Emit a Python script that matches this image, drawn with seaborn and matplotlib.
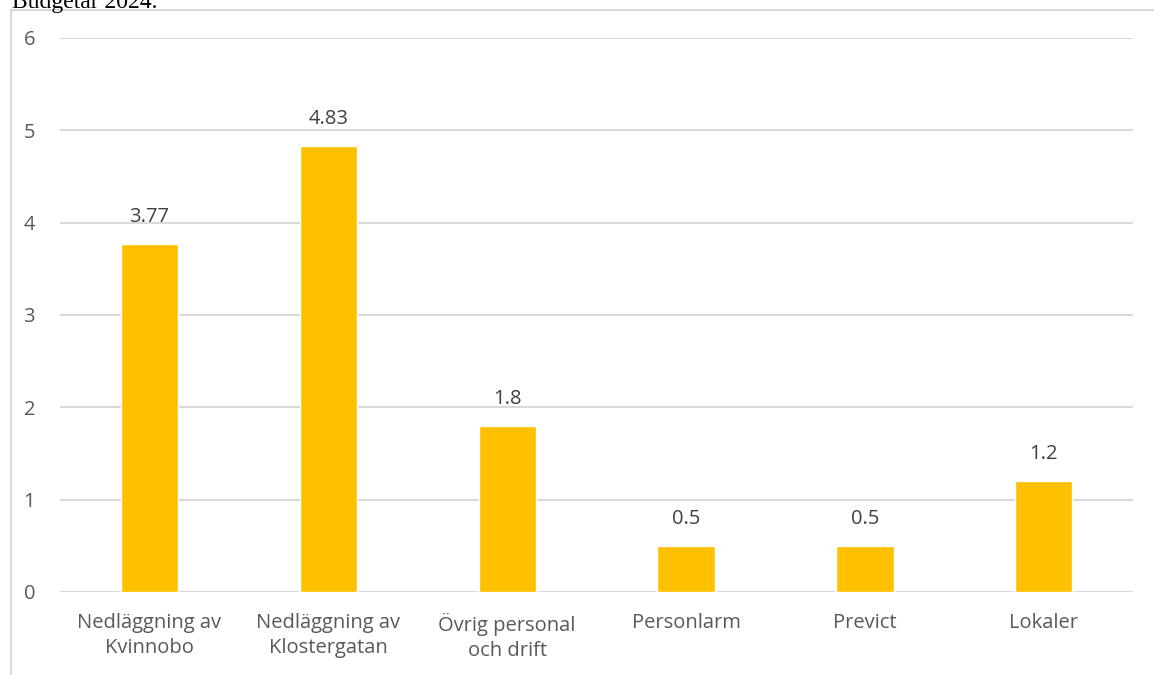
import matplotlib
matplotlib.use("Agg")
import matplotlib.pyplot as plt
import seaborn as sns
import pandas as pd
from matplotlib.patches import Rectangle

categories = ["Nedläggning av\nKvinnobo", "Nedläggning av\nKlostergatan",
              "Övrig personal\noch drift", "Personlarm", "Previct", "Lokaler"]
values = [3.77, 4.83, 1.8, 0.5, 0.5, 1.2]
labels = ["3.77", "4.83", "1.8", "0.5", "0.5", "1.2"]
yticks = [0, 1, 2, 3, 4, 5, 6]

sns.set_theme(style="white")
plt.rcParams['font.family'] = ['Open Sans', 'DejaVu Sans']

df = pd.DataFrame({"cat": categories, "val": values})

fig = plt.figure(figsize=(11.54, 6.75), dpi=100)
ax = fig.add_axes([0.052, 0.123, 0.930, 0.821])

sns.barplot(data=df, x="cat", y="val", color="#FFC000", width=0.32,
            saturation=1, ax=ax, zorder=3)

ax.set_ylim(0, 6)
ax.set_xlim(-0.5, 5.5)
ax.set_yticks(yticks)
ax.yaxis.grid(True, color="#d9d9d9", linewidth=1.5, zorder=0)
ax.set_axisbelow(True)
for s in ax.spines.values():
    s.set_visible(False)
ax.set_xlabel("")
ax.set_ylabel("")
ax.tick_params(axis="both", length=0, colors="#595959", labelsize=14.5)
ax.tick_params(axis="y", pad=18)
ax.tick_params(axis="x", pad=15)
for t in ax.get_xticklabels():
    t.set_linespacing(1.35)

for i, (v, t) in enumerate(zip(values, labels)):
    ax.annotate(t, (i, v), xytext=(0, 12), textcoords="offset points",
                ha="center", va="bottom", fontsize=14.5, color="#404040")

# frame around chart object
fig.patches.append(Rectangle((11 / 1154, -0.1), 1.2, 1 - 10 / 675 + 0.1,
                             transform=fig.transFigure, fill=False,
                             edgecolor="#d9d9d9", linewidth=1.5))
fig.text(12 / 1154, 1 - 8 / 675, "Budgetår 2024.", family="Liberation Serif",
         fontsize=17, color="black", ha="left", va="baseline")

fig.savefig("out.png", dpi=100)
